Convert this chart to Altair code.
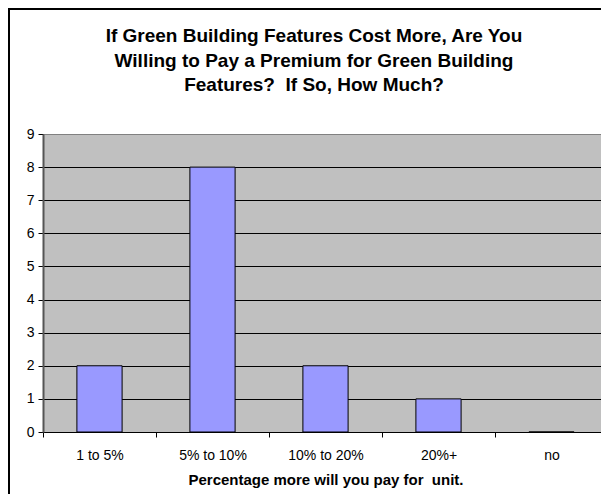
import altair as alt
import pandas as pd

categories = ["1 to 5%", "5% to 10%", "10% to 20%", "20%+", "no"]
counts = [2, 8, 2, 1, 0]

title_lines = [
    "If Green Building Features Cost More, Are You",
    "Willing to Pay a Premium for Green Building",
    "Features?\u00a0 If So, How Much?",
]
x_title = "Percentage more will you pay for \u00a0unit."

df = pd.DataFrame({"category": categories, "count": counts})

FONT = "Liberation Sans"
W, H = 558, 298
XRANGE = 565

bars = alt.Chart(df).mark_bar(
    width={"band": 0.4}, color="#9999FF", stroke="black", strokeWidth=1
).encode(
    x=alt.X(
        "category:N",
        sort=categories,
        scale=alt.Scale(paddingInner=0, paddingOuter=0, range=[0, XRANGE]),
        axis=alt.Axis(
            title=x_title,
            titleX=(XRANGE / 2),
            labelAngle=0,
            labelFont=FONT,
            labelFontSize=14,
            labelColor="black",
            labelPadding=11,
            tickBand="extent",
            tickColor="black",
            tickSize=5,
            domainColor="black",
            domainWidth=1,
            grid=False,
            titleFont=FONT,
            titleFontSize=15,
            titleFontWeight="bold",
            titleColor="black",
            titlePadding=10,
        ),
    ),
    y=alt.Y(
        "count:Q",
        scale=alt.Scale(domain=[0, 9], nice=False),
        axis=alt.Axis(
            title=None,
            values=list(range(10)),
            format="d",
            labelFont=FONT,
            labelFontSize=14,
            labelColor="black",
            labelPadding=4,
            tickColor="black",
            tickSize=5,
            domainColor="#555555",
            domainWidth=2,
            grid=True,
            gridColor={"condition": {"test": "datum.value === 9", "value": "#808080"}, "value": "black"},
            gridWidth=1,
            gridOpacity=1,
        ),
    ),
)

frame_df = pd.DataFrame({"k": [0]})
top_edge = alt.Chart(frame_df).mark_rule(color="black", strokeWidth=2).encode(
    x=alt.value(-35), x2=alt.value(W + 50), y=alt.value(-125)
)
left_edge = alt.Chart(frame_df).mark_rule(color="black", strokeWidth=2).encode(
    x=alt.value(-34), y=alt.value(-126), y2=alt.value(H + 100)
)

chart = alt.layer(bars, top_edge, left_edge).properties(
    width=W,
    height=H,
    padding={"left": 35, "top": 126, "right": 0, "bottom": 62},
    autosize=alt.AutoSizeParams(type="none"),
    title=alt.TitleParams(
        text=title_lines,
        font=FONT,
        fontSize=19,
        fontWeight="bold",
        color="black",
        anchor="middle",
        frame="group",
        dx=-8,
        dy=88,
        offset=0,
        lineHeight=24.5,
    ),
).configure(
    background="white",
    view=alt.ViewConfig(fill="#C0C0C0", stroke="#808080", strokeWidth=1),
)

chart.save("out.html", embed_options={"renderer": "svg", "actions": False})
